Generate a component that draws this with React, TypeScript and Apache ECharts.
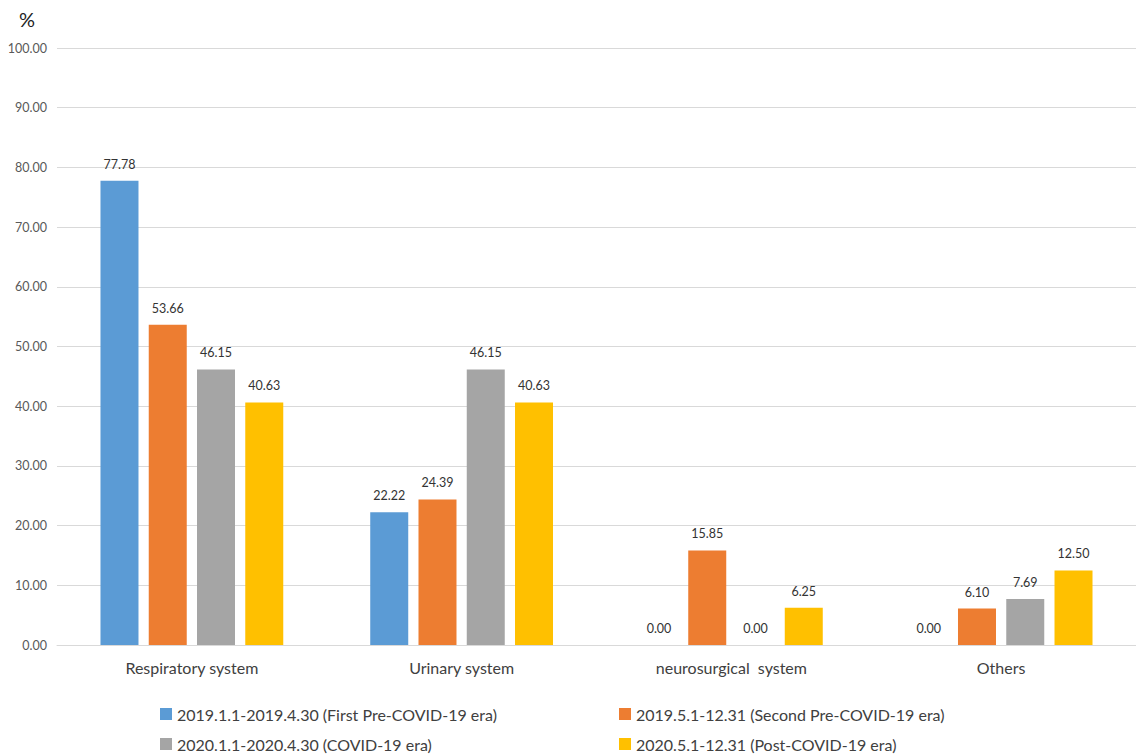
import React, { useEffect, useRef } from "react";
import * as echarts from "echarts";

const categories = ["Respiratory system", "Urinary system", "neurosurgical  system", "Others"];
const seriesNames = [
  "2019.1.1-2019.4.30 (First Pre-COVID-19 era)",
  "2019.5.1-12.31 (Second Pre-COVID-19 era)",
  "2020.1.1-2020.4.30 (COVID-19 era)",
  "2020.5.1-12.31 (Post-COVID-19 era)",
];
const firstPre = [77.78, 22.22, 0.0, 0.0];
const secondPre = [53.66, 24.39, 15.85, 6.1];
const covid = [46.15, 46.15, 0.0, 7.69];
const postCovid = [40.63, 40.63, 6.25, 12.5];
const colors = ["#5B9BD5", "#ED7D31", "#A5A5A5", "#FFC000"];

const FONT = "Lato, 'Open Sans', sans-serif";

const legendPos = [
  { left: 160, top: 706 },
  { left: 619, top: 706 },
  { left: 160, top: 736 },
  { left: 619, top: 736 },
];

export default function App() {
  const ref = useRef<HTMLDivElement>(null);
  useEffect(() => {
    if (!ref.current) return;
    const chart = echarts.init(ref.current, undefined, { renderer: "svg" });
    const values = [firstPre, secondPre, covid, postCovid];
    chart.setOption({
      animation: false,
      backgroundColor: "#ffffff",
      textStyle: { fontFamily: FONT },
      grid: { left: 57, right: 0, top: 48, bottom: 111, containLabel: false },
      graphic: [
        {
          type: "text",
          left: 19,
          top: 9,
          style: { text: "%", fontSize: 20, fill: "#222", fontFamily: FONT },
        },
      ],
      legend: seriesNames.map((n, i) => ({
        data: [n],
        left: legendPos[i].left,
        top: legendPos[i].top,
        itemWidth: 12,
        itemHeight: 12,
        itemGap: 6,
        icon: "rect",
        padding: 0,
        textStyle: { fontSize: 16, color: "#404040", fontFamily: FONT },
      })),
      xAxis: {
        type: "category",
        data: categories,
        axisTick: { show: false },
        axisLine: { lineStyle: { color: "#d9d9d9" } },
        axisLabel: { fontSize: 16, color: "#404040", margin: 14, fontFamily: FONT },
      },
      yAxis: {
        type: "value",
        min: 0,
        max: 100,
        interval: 10,
        axisLine: { show: false },
        axisTick: { show: false },
        axisLabel: {
          fontSize: 12.5,
          color: "#595959",
          margin: 10,
          fontFamily: FONT,
          formatter: (v: number) => v.toFixed(2),
        },
        splitLine: { lineStyle: { color: "#d9d9d9" } },
      },
      series: values.map((vals, i) => ({
        name: seriesNames[i],
        type: "bar",
        data: vals,
        barWidth: 38,
        barGap: "27%",
        itemStyle: { color: colors[i] },
        label: {
          show: true,
          position: "top",
          distance: 10,
          fontSize: 12.5,
          color: "#333",
          fontFamily: FONT,
          formatter: (p: any) => Number(p.value).toFixed(2),
        },
      })),
    });
    return () => chart.dispose();
  }, []);
  return (
    <div
      ref={ref}
      style={{ position: "fixed", left: 0, top: 0, width: 1136, height: 756, background: "#fff" }}
    />
  );
}
